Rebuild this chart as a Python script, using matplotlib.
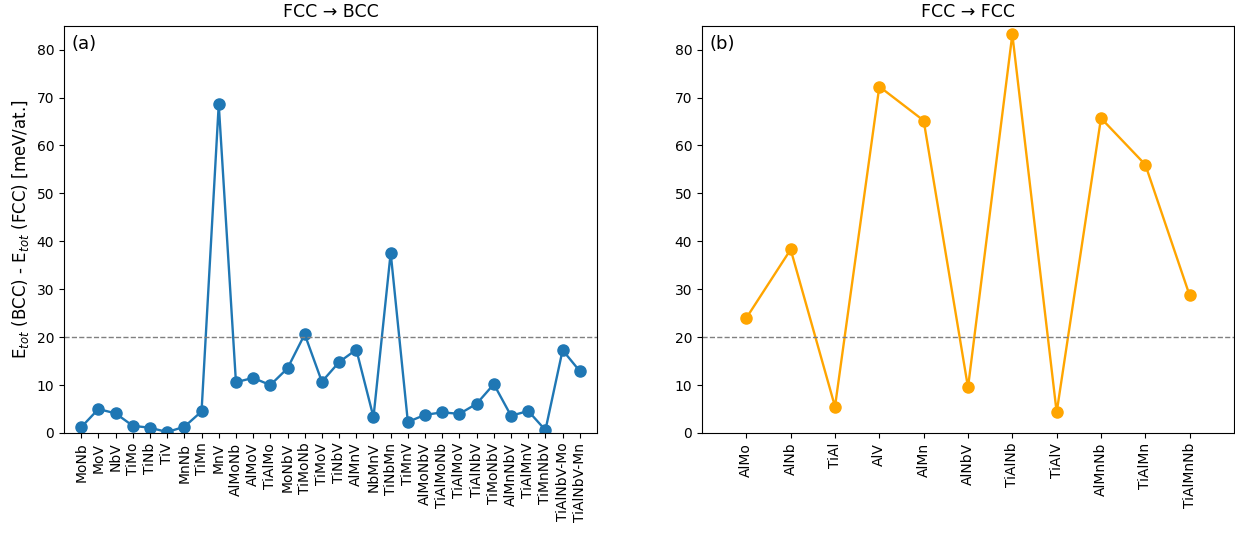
import matplotlib
matplotlib.use("Agg")
import matplotlib.pyplot as plt
import numpy as np

bcc_labels = ["MoNb", "MoV", "NbV", "TiMo", "TiNb", "TiV", "MnNb", "TiMn", "MnV",
              "AlMoNb", "AlMoV", "TiAlMo", "MoNbV", "TiMoNb", "TiMoV", "TiNbV",
              "AlMnV", "NbMnV", "TiNbMn", "TiMnV", "AlMoNbV", "TiAlMoNb", "TiAlMoV",
              "TiAlNbV", "TiMoNbV", "AlMnNbV", "TiAlMnV", "TiMnNbV", "TiAlNbV-Mo",
              "TiAlNbV-Mn"]
bcc_values = [1.2, 5.0, 4.1, 1.5, 1.1, 0.2, 1.3, 4.5, 68.6, 10.6, 11.5, 10.0, 13.5,
              20.6, 10.7, 14.8, 17.4, 3.3, 37.6, 2.3, 3.8, 4.3, 4.0, 6.1, 10.2, 3.6,
              4.6, 0.6, 17.3, 12.9]

fcc_labels = ["AlMo", "AlNb", "TiAl", "AlV", "AlMn", "AlNbV", "TiAlNb", "TiAlV",
              "AlMnNb", "TiAlMn", "TiAlMnNb"]
fcc_values = [24.0, 38.3, 5.5, 72.3, 65.2, 9.5, 83.2, 4.3, 65.7, 56.0, 28.7]

threshold = 20

W, H = 1235, 533
fig = plt.figure(figsize=(W / 100, H / 100), dpi=100)
ax1 = fig.add_axes([64 / W, (H - 433) / H, 533 / W, 407.3 / H])
ax2 = fig.add_axes([702 / W, (H - 433) / H, 532 / W, 407.3 / H])

for ax, labels, vals, color, tag, title in [
    (ax1, bcc_labels, bcc_values, "#1f77b4", "(a)", "FCC \u2192 BCC"),
    (ax2, fcc_labels, fcc_values, "orange", "(b)", "FCC \u2192 FCC"),
]:
    x = np.arange(len(labels))
    ax.plot(x, vals, "-o", color=color, markersize=8, linewidth=1.7)
    ax.axhline(threshold, color="gray", linestyle="--", linewidth=1)
    ax.set_xticks(x)
    ax.set_xticklabels(labels, rotation=90, fontsize=10)
    ax.set_xlim(-1, len(labels))
    ax.set_ylim(0, 85)
    ax.set_yticks(np.arange(0, 81, 10))
    ax.tick_params(axis="y", labelsize=10)
    ax.set_title(title, fontsize=12.5)
    ax.text(0.015, 0.978, tag, transform=ax.transAxes, fontsize=13, va="top", ha="left")

ax1.set_ylabel(r"E$_{tot}$ (BCC) - E$_{tot}$ (FCC) [meV/at.]", fontsize=12)

fig.savefig("out.png", dpi=100)
